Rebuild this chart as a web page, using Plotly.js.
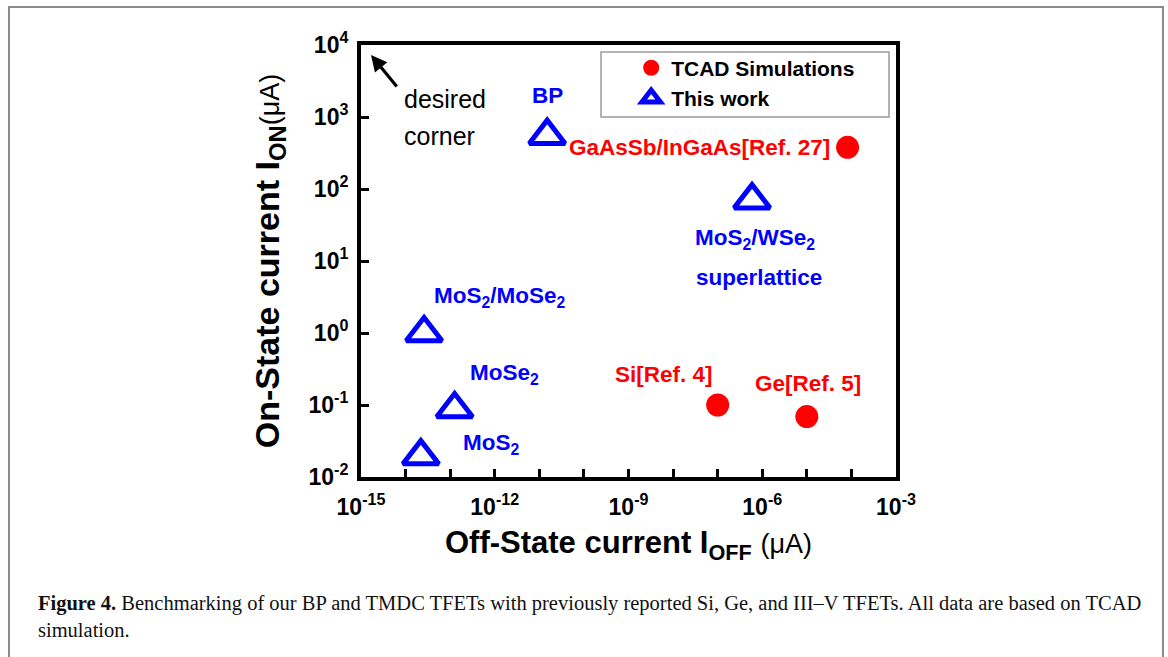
<!DOCTYPE html>
<html>
<head>
<meta charset="utf-8">
<script src="https://cdn.plot.ly/plotly-3.0.1.min.js"></script>
<style>
  html, body { margin: 0; padding: 0; background: #ffffff; }
  #chart { width: 1168px; height: 657px; }
</style>
</head>
<body>
<div id="chart"></div>
<script>
// ---- data ----
const tcadNames = ['GaAsSb/InGaAs[Ref. 27]', 'Si[Ref. 4]', 'Ge[Ref. 5]'];
const tcadOff = [8.2e-5, 1.0e-7, 1.0e-5];      // I_OFF (uA)
const tcadOn = [380, 0.1, 0.069];              // I_ON (uA)

const thisNames = ['BP', 'MoS<sub>2</sub>/WSe<sub>2</sub>', 'MoS<sub>2</sub>/MoSe<sub>2</sub>', 'MoSe<sub>2</sub>', 'MoS<sub>2</sub>'];
const thisOff = [1.5e-11, 5.9e-7, 2.6e-14, 1.26e-13, 2.2e-14];
const thisOn = [550, 70, 1.0, 0.088, 0.0195];
const thisExtraLine = ['', 'superlattice', '', '', ''];

const xTickVals = [1e-15, 1e-14, 1e-13, 1e-12, 1e-11, 1e-10, 1e-9, 1e-8, 1e-7, 1e-6, 1e-5, 1e-4, 1e-3];
const xTickText = ['10<sup>-15</sup>', '', '', '10<sup>-12</sup>', '', '', '10<sup>-9</sup>', '', '', '10<sup>-6</sup>', '', '', '10<sup>-3</sup>'];
const yTickVals = [1e-2, 1e-1, 1e0, 1e1, 1e2, 1e3, 1e4];
const yTickText = ['10<sup>-2</sup>', '10<sup>-1</sup>', '10<sup>0</sup>', '10<sup>1</sup>', '10<sup>2</sup>', '10<sup>3</sup>', '10<sup>4</sup>'];

// ---- styling ----
const SANS = 'Liberation Sans, Arial, Helvetica, sans-serif';
const SERIF = 'Liberation Serif, Times New Roman, serif';
const RED = '#ff0000';
const BLUE = '#0000ff';
const LABEL_SIZE = 22.5;

// label placement (pixel shifts relative to each point)
const tcadLabelPos = [
  {xanchor: 'right', xshift: -16, yshift: 0},
  {xanchor: 'center', xshift: -54, yshift: 31},
  {xanchor: 'center', xshift: 1, yshift: 33}
];
const thisLabelPos = [
  {xanchor: 'center', xshift: 0, yshift: 40},
  {xanchor: 'center', xshift: 3, yshift: -39},
  {xanchor: 'left', xshift: 8, yshift: 36},
  {xanchor: 'left', xshift: 13, yshift: 35},
  {xanchor: 'left', xshift: 40, yshift: 12}
];
const thisExtraPos = [null, {xanchor: 'center', xshift: 7, yshift: -77}, null, null, null];

const traces = [
  {
    type: 'scatter', mode: 'markers', name: '<b>TCAD Simulations</b>',
    x: tcadOff, y: tcadOn,
    marker: {symbol: 'circle', size: 23, color: RED, line: {width: 0}},
    cliponaxis: false
  },
  {
    type: 'scatter', mode: 'markers', name: '<b>This work</b>',
    x: thisOff, y: thisOn,
    marker: {symbol: 'triangle-up-open', size: 31, color: BLUE, line: {width: 5, color: BLUE}},
    cliponaxis: false
  }
];

const annotations = [];
tcadNames.forEach((t, i) => {
  const p = tcadLabelPos[i];
  annotations.push({
    xref: 'x', yref: 'y', x: Math.log10(tcadOff[i]), y: Math.log10(tcadOn[i]),
    text: '<b>' + t + '</b>', showarrow: false,
    xanchor: p.xanchor, yanchor: 'middle', xshift: p.xshift, yshift: p.yshift,
    font: {family: SANS, size: LABEL_SIZE, color: RED}
  });
});
thisNames.forEach((t, i) => {
  const p = thisLabelPos[i];
  annotations.push({
    xref: 'x', yref: 'y', x: Math.log10(thisOff[i]), y: Math.log10(thisOn[i]),
    text: '<b>' + t + '</b>', showarrow: false,
    xanchor: p.xanchor, yanchor: 'middle', xshift: p.xshift, yshift: p.yshift,
    font: {family: SANS, size: LABEL_SIZE, color: BLUE}
  });
  if (thisExtraLine[i]) {
    const q = thisExtraPos[i];
    annotations.push({
      xref: 'x', yref: 'y', x: Math.log10(thisOff[i]), y: Math.log10(thisOn[i]),
      text: '<b>' + thisExtraLine[i] + '</b>', showarrow: false,
      xanchor: q.xanchor, yanchor: 'middle', xshift: q.xshift, yshift: q.yshift,
      font: {family: SANS, size: LABEL_SIZE, color: BLUE}
    });
  }
});

// "desired corner" note with arrow
annotations.push({
  xref: 'paper', yref: 'paper', x: 0.0775, y: 0.875, xanchor: 'left', yanchor: 'middle',
  text: 'desired', showarrow: false, font: {family: SANS, size: 25, color: '#000'}
});
annotations.push({
  xref: 'paper', yref: 'paper', x: 0.0775, y: 0.789, xanchor: 'left', yanchor: 'middle',
  text: 'corner', showarrow: false, font: {family: SANS, size: 25, color: '#000'}
});
annotations.push({
  xref: 'paper', yref: 'paper', x: 0.0187, y: 0.977, text: '', showarrow: true,
  ax: 27, ay: 33, arrowhead: 2, arrowsize: 1, arrowwidth: 3.2, arrowcolor: '#000', standoff: 0
});

// figure caption
annotations.push({
  xref: 'paper', yref: 'paper', x: -0.6075, y: -0.323, xanchor: 'left', yanchor: 'middle', align: 'left',
  text: '<b>Figure 4.</b> Benchmarking of our BP and TMDC TFETs with previously reported Si, Ge, and III\u2013V TFETs. All data are based on TCAD<br>simulation.',
  showarrow: false, font: {family: SERIF, size: 20.5, color: '#111'}
});

const layout = {
  width: 1168, height: 657, autosize: false,
  margin: {l: 361, r: 272, t: 45, b: 180, pad: 0},
  paper_bgcolor: '#ffffff', plot_bgcolor: '#ffffff',
  font: {family: SANS, color: '#000'},
  showlegend: true,
  legend: {
    x: 0.505, y: 0.994, xanchor: 'left', yanchor: 'top',
    bgcolor: 'rgba(0,0,0,0)', borderwidth: 0,
    font: {family: SANS, size: 21, color: '#000'},
    traceorder: 'normal'
  },
  xaxis: {
    type: 'log', range: [-15, -3],
    showline: true, linewidth: 4, linecolor: '#000', mirror: true,
    ticks: 'inside', ticklen: 8, tickwidth: 3, tickcolor: '#000',
    tickmode: 'array', tickvals: xTickVals, ticktext: xTickText.map(s => s ? '<b>' + s + '</b>' : ''),
    tickfont: {family: SANS, size: 23, color: '#000'},
    ticklabelstandoff: 6,
    showgrid: false, zeroline: false,
    title: {text: '<b>Off-State current I<sub>OFF</sub></b> <span style="font-size:27px">(\u03bcA)</span>', font: {family: SANS, size: 31, color: '#000'}, standoff: 14}
  },
  yaxis: {
    type: 'log', range: [-2, 4],
    showline: true, linewidth: 4, linecolor: '#000', mirror: true,
    ticks: 'inside', ticklen: 8, tickwidth: 3, tickcolor: '#000',
    tickmode: 'array', tickvals: yTickVals, ticktext: yTickText.map(s => '<b>' + s + '</b>'),
    tickfont: {family: SANS, size: 23, color: '#000'},
    ticklabelstandoff: 4,
    showgrid: false, zeroline: false,
    title: {text: '<b>On-State current I<sub>ON</sub></b><span style="font-size:27px">(\u03bcA)</span>', font: {family: SANS, size: 34, color: '#000'}, standoff: 20}
  },
  shapes: [
    // legend box
    {type: 'rect', xref: 'paper', yref: 'paper', x0: 0.4486, x1: 0.9869, y0: 0.8333, y1: 0.9838,
     line: {color: '#9a9a9a', width: 1.5}, fillcolor: 'rgba(0,0,0,0)'},
    // outer figure frame
    {type: 'rect', xref: 'paper', yref: 'paper', x0: -0.658, x1: 1.499, y0: -0.62, y1: 1.088,
     line: {color: '#8a8a8a', width: 2}, fillcolor: 'rgba(0,0,0,0)', layer: 'below'}
  ],
  annotations: annotations
};

Plotly.newPlot('chart', traces, layout, {staticPlot: true, displayModeBar: false});
</script>
</body>
</html>
